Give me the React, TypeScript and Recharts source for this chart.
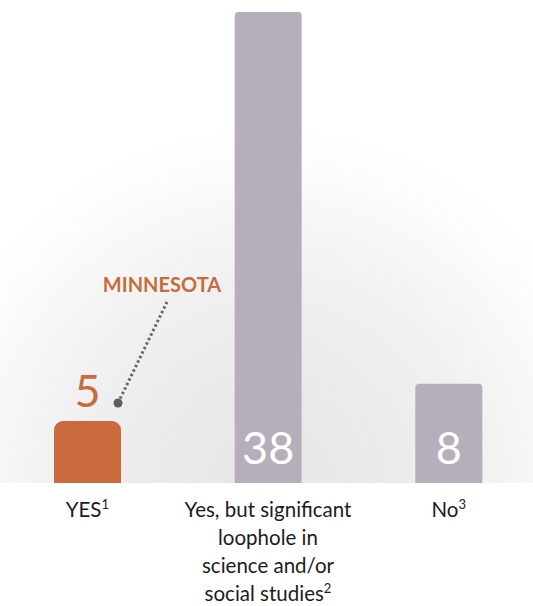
import React from 'react';
import { BarChart, Bar, XAxis, YAxis, LabelList, Rectangle } from 'recharts';

const categories = ['YES', 'Yes, but significant loophole in science and/or social studies', 'No'];
const tickLines = [['YES'], ['Yes, but significant', 'loophole in', 'science and/or', 'social studies'], ['No']];
const footnotes = ['1', '2', '3'];
const values = [5, 38, 8];
const highlightLabel = 'MINNESOTA';

const ORANGE = '#C96B3D';
const GREY = '#B6AFBB';
const FONT = 'Lato, "Open Sans", sans-serif';

const data = categories.map((c, i) => ({ name: c, value: values[i], idx: i }));

const BarShape = (props: any) => {
  const { x, y, width, height, payload } = props;
  const first = payload.idx === 0;
  return (
    <Rectangle
      x={x}
      y={y}
      width={width}
      height={height}
      radius={first ? [9, 9, 0, 0] : [4, 4, 0, 0]}
      fill={first ? ORANGE : GREY}
    />
  );
};

const ValueLabel = (props: any) => {
  const { x, y, width, height, value, index } = props;
  const cx = x + width / 2;
  if (index === 0) {
    const dotX = x + width - 3;
    const dotY = y - 18;
    const lineTopX = dotX + 49;
    const lineTopY = y - 119;
    return (
      <g>
        <text x={cx} y={y - 14} textAnchor="middle" fill={ORANGE} fontSize={45} fontFamily={FONT}>
          {value}
        </text>
        <line
          x1={dotX}
          y1={dotY}
          x2={lineTopX}
          y2={lineTopY}
          stroke="#666666"
          strokeWidth={3}
          strokeDasharray="2.4 2.6"
        />
        <circle cx={dotX} cy={dotY} r={4.5} fill="#5e5e5e" />
        <text
          x={lineTopX - 5}
          y={y - 129}
          textAnchor="middle"
          fill={ORANGE}
          fontSize={20}
          fontWeight={700}
          fontFamily={FONT}
        >
          {highlightLabel}
        </text>
      </g>
    );
  }
  return (
    <text x={cx} y={y + height - 19} textAnchor="middle" fill="#ffffff" fontSize={45} fontFamily={FONT}>
      {value}
    </text>
  );
};

const CategoryTick = (props: any) => {
  const { x, y, index } = props;
  const lines = tickLines[index] || [];
  return (
    <g>
      {lines.map((line, i) => (
        <text
          key={i}
          x={x}
          y={y + 25.5 + i * 28.3}
          textAnchor="middle"
          fill="#1e1b1c"
          fontSize={20.5}
          fontFamily={FONT}
        >
          {line}
          {i === lines.length - 1 ? (
            <tspan fontSize={13} dy={-8}>
              {footnotes[index]}
            </tspan>
          ) : null}
        </text>
      ))}
    </g>
  );
};

export default function App() {
  return (
    <div style={{ position: 'absolute', left: 0, top: 0, width: 533, height: 606, background: '#fff' }}>
      <div
        style={{
          position: 'absolute',
          left: 0,
          top: 0,
          width: 533,
          height: 483,
          background:
            'radial-gradient(circle 360px at 268px 483px, #e6e6e6 0%, #ebebeb 35%, #f3f3f3 65%, #fcfcfc 88%, #ffffff 100%)',
        }}
      />
      <div style={{ position: 'absolute', left: 0, top: 0 }}>
        <BarChart width={533} height={606} data={data} margin={{ top: 12, right: -6, left: -3, bottom: 0 }}>
          <XAxis
            dataKey="name"
            axisLine={false}
            tickLine={false}
            height={123}
            interval={0}
            tick={<CategoryTick />}
          />
          <YAxis hide domain={[0, 38]} />
          <Bar dataKey="value" barSize={67} shape={<BarShape />} isAnimationActive={false}>
            <LabelList dataKey="value" content={<ValueLabel />} />
          </Bar>
        </BarChart>
      </div>
    </div>
  );
}
